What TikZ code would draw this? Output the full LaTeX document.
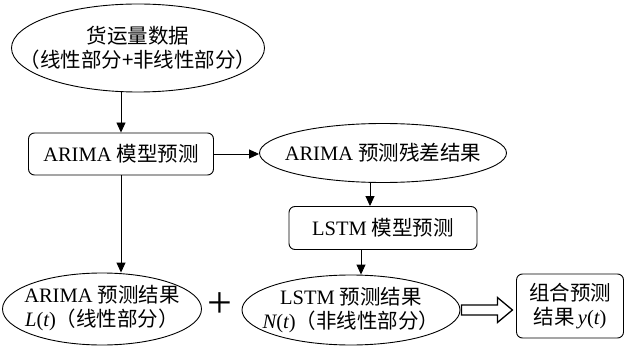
\documentclass[tikz,border=0pt]{standalone}
\usepackage{fontspec}
\setmainfont{Liberation Serif}
\newfontfamily\cjk{Noto Sans CJK SC}
\usetikzlibrary{shapes.geometric,arrows.meta}
\newcommand\zh[1]{{\cjk #1}}
\begin{document}
\begin{tikzpicture}[x=1pt,y=-1pt,
  every node/.style={font=\fontsize{20.5pt}{24pt}\selectfont, align=center, inner sep=0pt},
  ell/.style={draw, ellipse, line width=0.9pt},
  rbox/.style={draw, rounded corners=6pt, line width=0.9pt},
  arr/.style={-{Triangle[length=10pt,width=9pt]}, line width=0.9pt}]
\useasboundingbox (0,0) rectangle (628,347);

\node[ell, minimum width=253pt, minimum height=88pt] (src) at (138,48) {};
\node (srct) at (src.center) {\zh{货运量数据}\\\zh{（线性部分+非线性部分）}};
\node[rbox, minimum width=185pt, minimum height=42pt] (arima) at (121,154) {};
\node (arimat) at (arima.center) {ARIMA \zh{模型预测}};
\node[ell, minimum width=247pt, minimum height=59pt] (res) at (383,153) {};
\node (rest) at (res.center) {ARIMA \zh{预测残差结果}};
\node[rbox, minimum width=188pt, minimum height=43pt] (lstm) at (383,228) {};
\node (lstmt) at (lstm.center) {LSTM \zh{模型预测}};
\node[ell, minimum width=199pt, minimum height=72pt] (lin) at (102,309) {};
\node (lint) at ([yshift=1pt]lin.center) {ARIMA \zh{预测结果}\\{\itshape L}({\itshape t})\zh{（线性部分）}};
\node[ell, minimum width=218pt, minimum height=70pt] (non) at (351,310) {};
\node (nont) at (non.center) {LSTM \zh{预测结果}\\{\itshape N}({\itshape t})\zh{（非线性部分）}};
\node[font=\fontsize{44pt}{44pt}\selectfont] (plus) at (220,305) {+};
\node[rbox, minimum width=107pt, minimum height=64pt] (comb) at (570,306) {};
\node (combt) at (comb.center) {\zh{组合预测}\\\zh{结果}\,{\itshape y}({\itshape t})};

\draw[arr] (src.south -| arima.north) -- (arima.north);
\draw[arr] (arima.east) -- (arima.east -| res.west);
\draw[arr] ([xshift=-13pt]res.south) -- ([xshift=-13pt]lstm.north);
\draw[arr] ([xshift=-22pt]lstm.south) -- ([xshift=-22pt]lstm.south |- non.north);
\draw[arr] (arima.south) -- (arima.south |- lin.north);

\draw[line width=1.3pt, line join=miter] ([xshift=1pt]non.east) ++(0,-5) -- ++(36,0) -- ++(0,-7.5)
  -- ++(15,12.5) -- ++(-15,12.5) -- ++(0,-7.5) -- ++(-36,0) -- cycle;
\end{tikzpicture}
\end{document}
